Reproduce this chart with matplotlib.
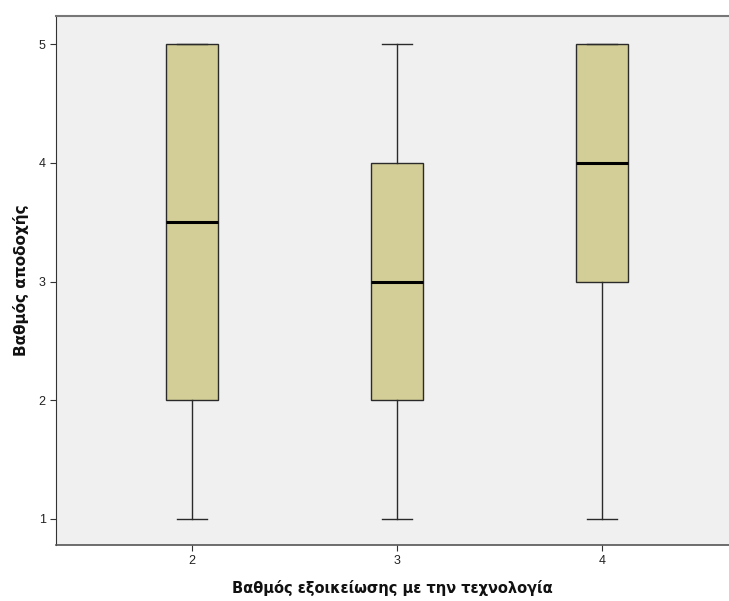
import matplotlib
matplotlib.use("Agg")
import matplotlib.pyplot as plt

# --- DATA ---
groups = [2, 3, 4]
whisker_low = [1, 1, 1]
q1 = [2, 2, 3]
medians = [3.5, 3, 4]
q3 = [5, 4, 5]
whisker_high = [5, 5, 5]

plt.rcParams['font.family'] = ['Liberation Sans', 'DejaVu Sans']

fig = plt.figure(figsize=(7.29, 6.01), dpi=100)
ax = fig.add_axes([56 / 729, 56 / 601, 1 - 56 / 729, 529 / 601])
ax.set_facecolor('#F0F0F0')

stats = []
for g, lo, a, m, b, hi in zip(groups, whisker_low, q1, medians, q3, whisker_high):
    stats.append({'label': str(g), 'whislo': lo, 'q1': a, 'med': m, 'q3': b, 'whishi': hi, 'fliers': []})

ax.bxp(stats, positions=groups, widths=0.25, patch_artist=True, showfliers=False,
       boxprops=dict(facecolor='#D3CE97', edgecolor='#2a2a2a', linewidth=1),
       medianprops=dict(color='black', linewidth=2.2),
       whiskerprops=dict(color='#2a2a2a', linewidth=1),
       capprops=dict(color='#2a2a2a', linewidth=1),
       capwidths=0.146)

ax.set_xlim(1.337, 4.62)
ax.set_ylim(0.781, 5.236)
ax.set_xticks(groups)
ax.set_xticklabels([str(g) for g in groups])
ax.set_yticks([1, 2, 3, 4, 5])

ax.spines['right'].set_visible(False)
ax.spines['top'].set_color('#777777')
ax.spines['top'].set_linewidth(1.5)
ax.spines['left'].set_color('#333333')
ax.spines['bottom'].set_color('#555555')
ax.spines['bottom'].set_linewidth(1.2)

ax.tick_params(axis='both', labelsize=9, length=4, color='#333333', labelcolor='#222222')

# axis titles in a wider bold face, as in the SPSS output
ax.set_xlabel('Βαθμός εξοικείωσης με την τεχνολογία', fontsize=10.5, fontweight='bold',
              family='DejaVu Sans', labelpad=9, color='#111111')
ax.set_ylabel('Βαθμός αποδοχής', fontsize=11, fontweight='bold',
              family='DejaVu Sans', labelpad=7, color='#111111')

fig.savefig('out.png', dpi=100)
